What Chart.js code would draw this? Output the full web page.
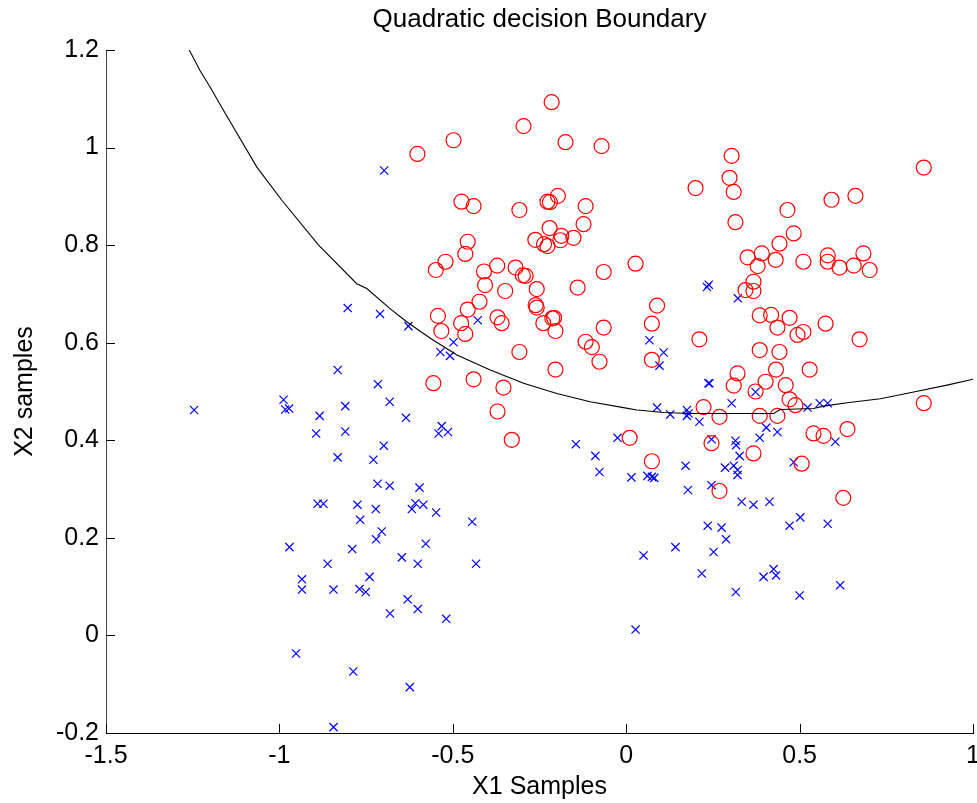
<!DOCTYPE html>
<html>
<head>
<meta charset="utf-8">
<title>Quadratic decision Boundary</title>
<script src="https://cdn.jsdelivr.net/npm/chart.js@4.4.1/dist/chart.umd.min.js"></script>
<style>
  html, body { margin:0; padding:0; background:#fff; }
  #wrap { width:977px; height:803px; }
</style>
</head>
<body>
<div id="wrap"><canvas id="chart" width="977" height="803"></canvas></div>
<script>
// values
const TITLE = 'Quadratic decision Boundary';
const X_LABEL = 'X1 Samples';
const Y_LABEL = 'X2 samples';

// class 1 (red circles)
const class1X = [
  -0.215,-0.296,-0.498,-0.602,-0.175,-0.071,0.200,-0.475,-0.440,-0.308,
  -0.227,-0.220,-0.197,-0.117,-0.123,-0.221,-0.187,-0.190,-0.152,-0.262,
  -0.237,-0.227,-0.457,-0.464,-0.521,-0.549,-0.410,-0.372,-0.319,-0.298,
  -0.290,-0.065,0.027,
  -0.407,-0.349,-0.258,-0.140,-0.423,-0.457,-0.261,-0.258,-0.543,-0.476,
  -0.371,-0.359,-0.239,-0.213,-0.208,-0.204,-0.533,-0.464,-0.065,0.089,
  0.074,-0.117,-0.099,-0.077,-0.308,-0.204,0.074,-0.556,-0.440,-0.354,
  -0.371,-0.330,0.010,0.074,
  0.304,0.298,0.310,0.315,0.858,0.592,0.661,0.465,0.483,0.442,
  0.350,0.391,0.431,0.379,0.511,0.581,0.581,0.615,0.656,0.684,0.702,
  0.367,0.344,0.367,0.385,0.418,0.471,0.436,0.494,0.511,0.575,
  0.673,0.211,0.385,0.442,0.432,0.529,0.321,0.310,0.402,0.460,
  0.373,0.471,0.488,0.223,0.269,0.385,0.436,0.858,0.540,0.569,
  0.638,0.246,0.367,0.506,0.269,0.626
];
const class1Y = [
  1.093,1.044,1.015,0.987,1.011,1.003,0.917,0.889,0.880,0.872,
  0.889,0.888,0.901,0.880,0.843,0.835,0.819,0.810,0.815,0.811,
  0.802,0.798,0.807,0.782,0.766,0.749,0.746,0.758,0.754,0.738,
  0.737,0.745,0.762,
  0.718,0.706,0.710,0.713,0.684,0.668,0.677,0.672,0.655,0.640,
  0.652,0.640,0.640,0.650,0.651,0.624,0.624,0.618,0.631,0.676,
  0.639,0.602,0.591,0.561,0.581,0.545,0.565,0.517,0.525,0.508,
  0.459,0.401,0.405,0.357,
  0.983,0.938,0.909,0.847,0.959,0.893,0.901,0.872,0.824,0.803,
  0.775,0.783,0.770,0.757,0.766,0.779,0.766,0.754,0.758,0.783,0.749,
  0.725,0.708,0.706,0.656,0.657,0.651,0.631,0.616,0.622,0.639,
  0.607,0.607,0.585,0.581,0.545,0.545,0.537,0.512,0.520,0.513,
  0.500,0.484,0.472,0.468,0.448,0.450,0.450,0.476,0.414,0.409,
  0.423,0.394,0.373,0.352,0.296,0.282
];

// class 2 (blue crosses)
const class2X = [
  -0.698,
  -0.428,-0.628,-0.498,-0.536,-0.508,0.067,0.108,0.096,-0.635,-0.532,
  -0.541,-0.514,0.089,0.127,0.175,0.175,0.180,-0.145,-0.025,-0.089,
  -0.077,0.015,0.061,0.074,0.081,0.171,0.178,-0.596,-0.608,-0.585,
  -0.618,-0.548,
  -0.444,-0.578,-0.647,-0.601,-0.433,-0.630,-0.601,-0.519,-0.624,0.050,
  0.142,0.027,
  -0.767,-0.705,-0.721,-0.971,-0.790,-0.861,-0.935,-0.935,-0.844,-0.769,
  -0.751,-0.740,-0.681,-0.952,-0.787,-0.844,
  -1.246,-0.803,-0.710,-0.832,-0.716,-0.682,-0.988,-0.983,-0.972,-0.810,
  -0.884,-0.894,-0.810,-0.699,-0.832,-0.729,-0.717,-0.682,-0.890,-0.873,
  -0.775,-0.722,
  0.233,0.238,0.322,0.237,0.240,0.373,0.304,0.211,0.523,0.558,
  0.581,0.404,0.436,0.385,0.246,0.315,0.317,0.603,0.327,0.285,
  0.310,0.321,0.321,0.483,0.246,0.333,0.367,0.413,
  0.235,0.275,0.288,0.252,0.471,0.502,0.581,0.218,0.316,0.425,
  0.396,0.432,0.500,0.617
];
const class2Y = [
  0.953,
  0.646,0.634,0.601,0.581,0.573,0.605,0.580,0.553,0.446,0.429,
  0.414,0.417,0.467,0.453,0.462,0.450,0.455,0.392,0.405,0.368,
  0.335,0.324,0.327,0.325,0.323,0.348,0.298,0.303,0.271,0.268,
  0.259,0.252,
  0.233,0.188,0.160,0.147,0.147,0.074,0.054,0.034,-0.106,0.164,
  0.181,0.012,
  0.237,0.213,0.197,0.181,0.177,0.147,0.115,0.094,0.094,0.095,
  0.089,0.120,0.045,-0.037,-0.074,-0.188,
  0.462,0.671,0.659,0.544,0.515,0.479,0.483,0.463,0.465,0.470,
  0.450,0.414,0.418,0.389,0.365,0.360,0.311,0.307,0.270,0.270,
  0.268,0.259,
  0.714,0.719,0.691,0.517,0.517,0.499,0.476,0.438,0.467,0.476,
  0.476,0.426,0.417,0.405,0.402,0.399,0.390,0.397,0.368,0.344,
  0.348,0.339,0.329,0.355,0.308,0.274,0.268,0.274,
  0.225,0.221,0.197,0.171,0.225,0.242,0.229,0.127,0.089,0.136,
  0.120,0.123,0.082,0.103
];

// decision boundary
const boundaryX = [-1.26,-1.229,-1.2,-1.161,-1.065,-0.993,-0.887,-0.777,-0.748,-0.681,
  -0.633,-0.565,-0.488,-0.392,-0.296,-0.2,-0.104,-0.008,0.031,0.108,
  0.185,0.425,0.444,0.54,0.569,0.637,0.733,0.829,0.925,1.0];
const boundaryY = [1.2,1.158,1.124,1.076,0.96,0.892,0.80,0.721,0.711,0.67,
  0.643,0.609,0.575,0.544,0.517,0.496,0.479,0.467,0.462,0.457,
  0.455,0.455,0.463,0.465,0.470,0.477,0.485,0.499,0.513,0.525];

const xTicks = [-1.5, -1, -0.5, 0, 0.5, 1];
const xTickLabels = ['-1.5', '-1', '-0.5', '0', '0.5', '1'];
const yTicks = [-0.2, 0, 0.2, 0.4, 0.6, 0.8, 1, 1.2];
const yTickLabels = ['-0.2', '0', '0.2', '0.4', '0.6', '0.8', '1', '1.2'];

const FONT = '"Liberation Sans", Arial, Helvetica, sans-serif';
const FONT_SIZE = 25;

function toPoints(xs, ys){ return xs.map((x, i) => ({x: x, y: ys[i]})); }

// title centred over the axes, like matlab does
const axesTitle = {
  id: 'axesTitle',
  afterDraw(chart){
    const {ctx, chartArea} = chart;
    ctx.save();
    ctx.font = '26px ' + FONT;
    ctx.fillStyle = '#000';
    ctx.textAlign = 'center';
    ctx.textBaseline = 'middle';
    ctx.fillText(TITLE, (chartArea.left + chartArea.right) / 2, 20);
    ctx.restore();
  }
};

// tick marks pointing into the plot
const inwardTicks = {
  id: 'inwardTicks',
  afterDatasetsDraw(chart){
    const {ctx, chartArea, scales} = chart;
    ctx.save();
    ctx.strokeStyle = '#000';
    ctx.lineWidth = 1;
    ctx.beginPath();
    scales.x.ticks.forEach(t => {
      const px = Math.round(scales.x.getPixelForValue(t.value)) + 0.5;
      ctx.moveTo(px, chartArea.bottom);
      ctx.lineTo(px, chartArea.bottom - 9);
    });
    scales.y.ticks.forEach(t => {
      const py = Math.round(scales.y.getPixelForValue(t.value)) + 0.5;
      ctx.moveTo(chartArea.left, py);
      ctx.lineTo(chartArea.left + 9, py);
    });
    ctx.stroke();
    ctx.restore();
  }
};

Chart.defaults.font.family = FONT;
Chart.defaults.font.size = FONT_SIZE;
Chart.defaults.color = '#000';

new Chart(document.getElementById('chart'), {
  type: 'scatter',
  data: {
    datasets: [
      {
        type: 'line',
        label: 'boundary',
        data: toPoints(boundaryX, boundaryY),
        borderColor: '#000',
        borderWidth: 1.1,
        pointRadius: 0,
        fill: false,
        tension: 0
      },
      {
        label: 'class 1',
        data: toPoints(class1X, class1Y),
        pointStyle: 'circle',
        pointRadius: 7.5,
        borderColor: '#ff0000',
        backgroundColor: 'rgba(0,0,0,0)',
        borderWidth: 1.2
      },
      {
        label: 'class 2',
        data: toPoints(class2X, class2Y),
        pointStyle: 'crossRot',
        pointRadius: 5.8,
        borderColor: '#0000ff',
        backgroundColor: '#0000ff',
        borderWidth: 1.2
      }
    ]
  },
  options: {
    responsive: false,
    animation: false,
    devicePixelRatio: 1,
    events: [],
    layout: { autoPadding: false, padding: { top: 50, right: 4, left: 0, bottom: 0 } },
    plugins: { legend: { display: false }, tooltip: { enabled: false } },
    scales: {
      x: {
        type: 'linear',
        min: -1.5, max: 1,
        afterBuildTicks: s => { s.ticks = xTicks.map(v => ({value: v})); },
        afterFit: s => { s.height = 70; s.paddingRight = 0; },
        ticks: { callback: (v, i) => xTickLabels[i], padding: 8, maxRotation: 0 },
        grid: { display: true, drawOnChartArea: false, drawTicks: false },
        border: { display: true, color: '#000', width: 1 },
        title: { display: true, text: X_LABEL, padding: { top: 0, bottom: 1 } }
      },
      y: {
        type: 'linear',
        min: -0.2, max: 1.2,
        afterBuildTicks: s => { s.ticks = yTicks.map(v => ({value: v})); },
        afterFit: s => { s.width = 106; },
        ticks: { callback: (v, i) => yTickLabels[i], padding: 7 },
        grid: { display: true, drawOnChartArea: false, drawTicks: false },
        border: { display: true, color: '#444', width: 1 },
        title: { display: true, text: Y_LABEL, padding: { top: 10, bottom: 0 } }
      }
    }
  },
  plugins: [axesTitle, inwardTicks]
});
</script>
</body>
</html>
